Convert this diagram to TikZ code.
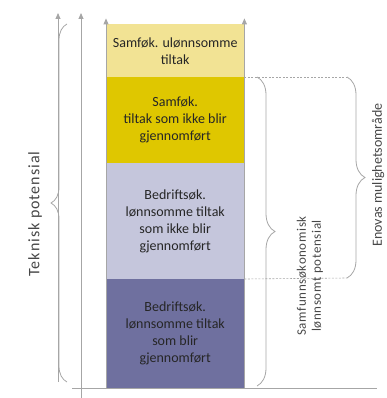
\documentclass[tikz,border=0pt]{standalone}
\usepackage{fontspec}
\setmainfont{Carlito}
\usetikzlibrary{arrows.meta,positioning,decorations.pathreplacing}
\definecolor{lysgul}{HTML}{F2E394}
\definecolor{morkgul}{HTML}{DFC700}
\definecolor{lyslilla}{HTML}{C5C6DC}
\definecolor{morklilla}{HTML}{6F709F}
\definecolor{strek}{HTML}{A6A6A6}
\definecolor{tekst}{HTML}{262626}

\begin{document}
\begin{tikzpicture}[
  x=1pt, y=-1pt,
  font=\fontsize{14}{17}\selectfont,
  lag/.style={anchor=north west, align=center, inner sep=0pt,
              minimum width=138pt, text=tekst},
  akse/.style={draw=strek, line width=0.8pt, -{Triangle[length=6pt, width=5pt]}},
  krull/.style={draw=strek, line width=0.8pt, decorate,
                decoration={brace, amplitude=18pt}},
  stiplet/.style={draw=strek, line width=0.6pt, dash pattern=on 2pt off 1.5pt},
  etikett/.style={rotate=90, align=center, text=tekst!85},
]
\useasboundingbox (0,0) rectangle (386,398);
% bars
\node[lag, fill=lysgul, minimum height=53pt] (ulonnsom) at (106,24)
  {Samføk. ulønnsomme\\tiltak};
\node[lag, fill=morkgul, minimum height=86pt] (samfok) at (106,77)
  {Samføk.\\tiltak som ikke blir\\gjennomført};
\node[lag, fill=lyslilla, minimum height=116pt] (bedrikke) at (106,163)
  {Bedriftsøk.\\lønnsomme tiltak\\som ikke blir\\gjennomført};
\node[lag, fill=morklilla, minimum height=109pt] (bedrblir) at (106,279)
  {Bedriftsøk.\\lønnsomme tiltak\\som blir\\gjennomført};
% axes
\coordinate (b0) at (72,388);
\coordinate (b1) at (377,388);
\draw[strek, line width=0.8pt] (b0) -- (b1);
\coordinate (a1) at (58,382);
\coordinate (a1top) at (58,13);
\coordinate (a2) at (81,398);
\coordinate (a2top) at (81,13);
\draw[akse] (a1) -- (a1top);
\draw[akse] (a2) -- (a2top);
\draw[akse] (bedrblir.south west) -- ++(0,-370);
\draw[akse] (bedrblir.south east) -- ++(0,-370);
% dashed guides
\coordinate (g1) at (347,77);
\coordinate (g2) at (347,278);
\draw[stiplet] (samfok.north east) -- (g1);
\draw[stiplet] (bedrblir.north east) -- (g2);
% braces
\draw[krull, decoration={amplitude=16pt}] (67,382) -- (67,24);
\node[etikett, font=\fontsize{16}{19}\selectfont\addfontfeatures{LetterSpace=6}]
  (teknisk) at (35,214) {Teknisk potensial};
\draw[krull] (257,77) -- (257,386);
\node[etikett, font=\fontsize{13}{15}\selectfont\addfontfeatures{LetterSpace=5}]
  (samfunn) at (310,276) {Samfunnsøkonomisk\\lønnsomt potensial};
\draw[krull] (g1) -- (g2);
\node[etikett] (enova) at (378,175) {Enovas mulighetsområde};
\end{tikzpicture}
\end{document}
